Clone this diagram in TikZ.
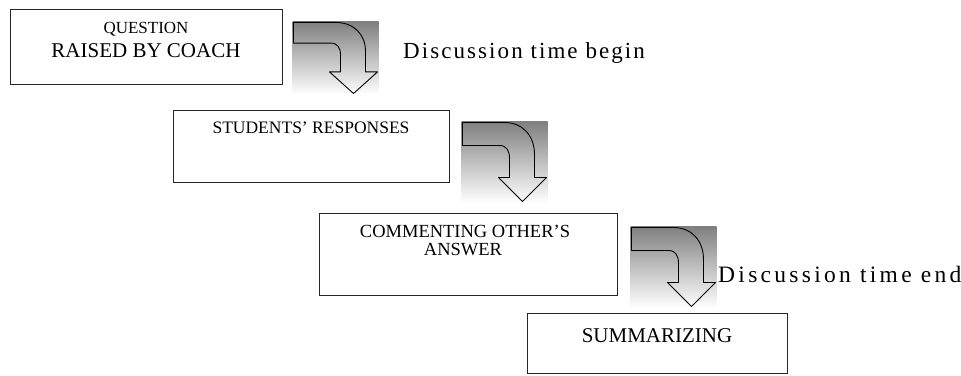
\documentclass[tikz,border=0pt]{standalone}
\usepackage{fontspec}
\setmainfont{Liberation Serif}
\newfontfamily\notefont[LetterSpace=9]{Liberation Serif}
\newfontfamily\widenotefont[LetterSpace=14]{Liberation Serif}
\usetikzlibrary{positioning, shadings}

\begin{document}
\begin{tikzpicture}[
    x=1pt, y=-1pt,
    stage/.style={
        draw=black!85,
        line width=1pt,
        inner sep=0pt
    },
    caption/.style={
        inner sep=0pt,
        anchor=base
    },
    note/.style={
        inner sep=0pt,
        anchor=base west,
        font=\notefont\fontsize{23}{27}\selectfont
    },
    turnarrow/.pic={
        \path[top color=black!50, bottom color=white] (0,0) rectangle (86,81);
        \draw[line width=0.9pt, line join=round]
            (1,1) -- (1,24) -- (38,24) .. controls (45,24) and (48,29) .. (48,37)
            -- (48,56) -- (37,56) -- (61,80) -- (85,56) -- (73,56) -- (73,33)
            .. controls (73,14) and (61,1) .. (43,1) -- cycle;
    }
]
    \useasboundingbox (0,0) rectangle (961,375);

    % === Boxes ===
    \node[stage, minimum width=272pt, minimum height=75pt] (question) at (146,46.5) {};
    \node[stage, minimum width=276pt, minimum height=72pt] (responses) at (311,146) {};
    \node[stage, minimum width=298pt, minimum height=82pt] (commenting) at (468,254) {};
    \node[stage, minimum width=260pt, minimum height=60pt] (summary) at (657,343) {};

    % === Texts ===
    \node[caption, font=\fontsize{17}{20}\selectfont] (questiontop) at (146,33) {QUESTION};
    \node[caption, font=\fontsize{21}{25}\selectfont] (questionbot) at (146,57) {RAISED BY COACH};
    \node[caption, font=\fontsize{17.5}{21}\selectfont] (responsestxt) at (311,133) {STUDENTS' RESPONSES};
    \node[caption, font=\fontsize{18.5}{22}\selectfont] (commentingtop) at (465,237) {COMMENTING OTHER'S};
    \node[caption, font=\fontsize{18.5}{22}\selectfont] (commentingbot) at (463,255) {ANSWER};
    \node[caption, font=\fontsize{21}{25}\selectfont] (summarytxt) at (657,342) {SUMMARIZING};

    % === Turn arrows ===
    \pic[yscale=0.9] at ([xshift=10pt, yshift=-13pt]question.north east) {turnarrow};
    \pic at ([xshift=12pt, yshift=-12pt]responses.north east) {turnarrow};
    \pic at ([xshift=13pt, yshift=-14pt]commenting.north east) {turnarrow};

    % === Time notes ===
    \node[note] (timebegin) at (403,58) {Discussion time begin};
    \node[note, font=\widenotefont\fontsize{23.5}{27}\selectfont] (timeend) at (718,282) {Discussion time end};

\end{tikzpicture}
\end{document}
